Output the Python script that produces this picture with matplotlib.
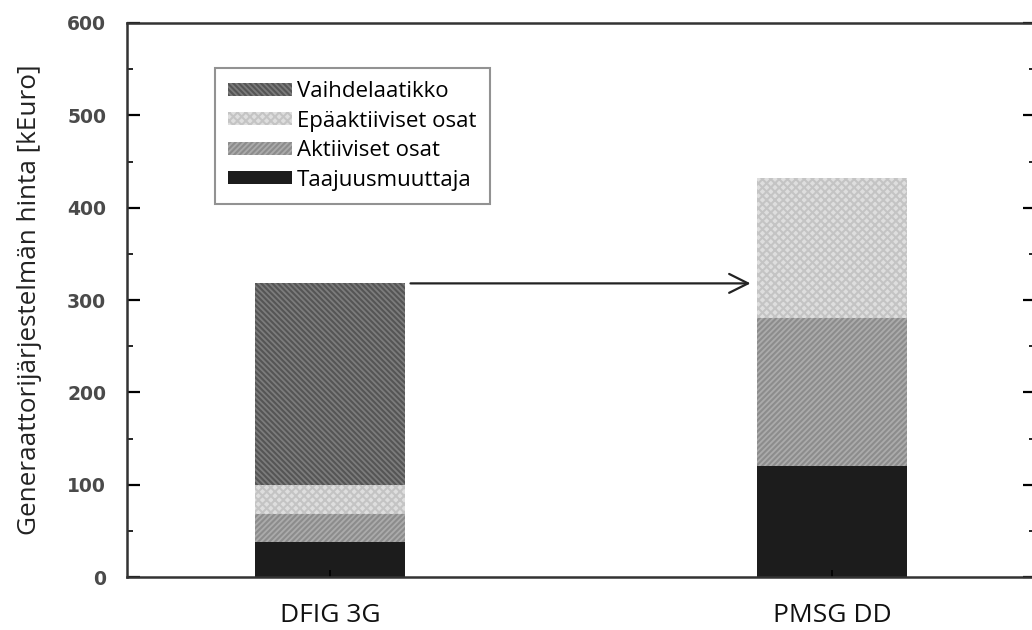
import matplotlib.pyplot as plt
import numpy as np
from matplotlib.ticker import MultipleLocator

# Data (kEuro)
systems = ['DFIG 3G', 'PMSG DD']
parts = ['Taajuusmuuttaja', 'Aktiiviset osat', 'Epäaktiiviset osat', 'Vaihdelaatikko']
taajuusmuuttaja = [38, 120]
aktiiviset = [30, 160]
epaaktiiviset = [32, 152]
vaihdelaatikko = [218, 0]

plt.rcParams['hatch.linewidth'] = 1.5

fig = plt.figure(figsize=(10.32, 6.3), dpi=100)
ax = fig.add_axes([0.123, 0.0841, 0.880, 0.8794])

x = np.arange(len(systems))
w = 0.299

# face, hatch colour, hatch pattern for each layer
styles = [('#1c1c1c', '#1c1c1c', None),
          ('#ababab', '#8c8c8c', '//////'),
          ('#dedede', '#c4c4c4', 'xxxx'),
          ('#7c7c7c', '#555555', '\\\\\\\\\\\\')]

series = [taajuusmuuttaja, aktiiviset, epaaktiiviset, vaihdelaatikko]
bottom = np.zeros(len(systems))
bars = []
for vals, (fc, hc, hatch), name in zip(series, styles, parts):
    vals = np.array(vals, dtype=float)
    b = ax.bar(x, vals, w, bottom=bottom, color=fc, edgecolor=hc, hatch=hatch,
               linewidth=0, label=name)
    bars.append(b)
    bottom += vals

# arrow from DFIG total toward PMSG bar
total_dfig = bottom[0]
ax.annotate('', xy=(0.843, total_dfig), xytext=(0.155, total_dfig),
            arrowprops=dict(arrowstyle='->', lw=1.6, color='#222222', mutation_scale=34))

ax.set_xlim(-0.404, 1.404)
ax.set_ylim(0, 600)
ax.yaxis.set_major_locator(MultipleLocator(100))
ax.yaxis.set_minor_locator(MultipleLocator(50))
ax.set_xticks(x)
ax.set_xticklabels(systems, fontsize=19, family='Open Sans', color='#111111')
ax.tick_params(axis='x', direction='in', length=5, width=1.2, pad=19)
ax.tick_params(axis='y', which='major', direction='in', length=9, width=1.6,
               right=True, pad=15)
ax.tick_params(axis='y', which='minor', direction='in', length=4, width=1.2, right=True)
for lab in ax.get_yticklabels():
    lab.set_family('DejaVu Sans')
    lab.set_fontweight('bold')
    lab.set_fontsize(13.5)
    lab.set_color('#4a4a4a')
for sp in ax.spines.values():
    sp.set_linewidth(1.8)
    sp.set_color('#333333')

ax.set_ylabel('Generaattorijärjestelmän hinta [kEuro]', fontsize=18.8, family='Open Sans',
              color='#222222', labelpad=18)

handles = [bars[3], bars[2], bars[1], bars[0]]
labels = [parts[3], parts[2], parts[1], parts[0]]
leg = ax.legend(handles, labels, loc='upper left', bbox_to_anchor=(0.097, 0.919),
                prop={'family': 'Open Sans', 'size': 16}, frameon=True, fancybox=False,
                handlelength=2.85, handleheight=0.55, handletextpad=0.25,
                labelspacing=0.38, borderpad=0.6, borderaxespad=0)
leg.get_frame().set_edgecolor('#777777')
leg.get_frame().set_linewidth(1.5)

plt.savefig('out.png', dpi=100)
